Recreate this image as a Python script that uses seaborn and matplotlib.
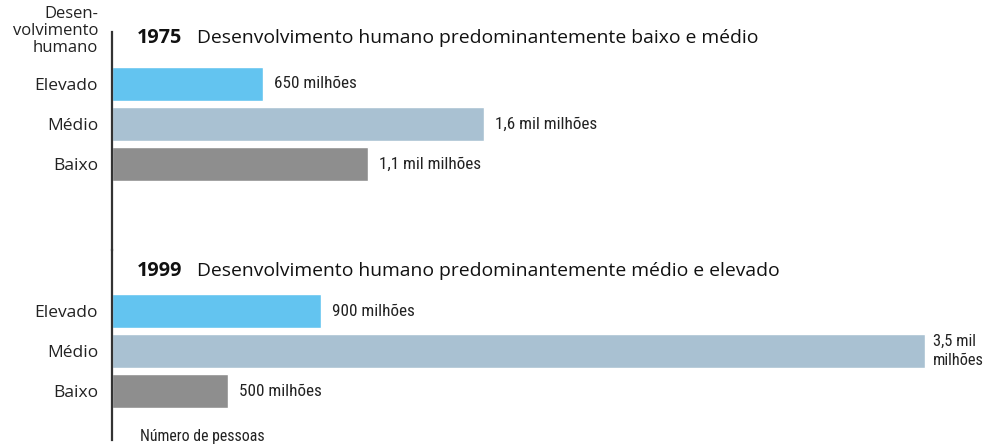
import matplotlib
matplotlib.use("Agg")
import matplotlib.pyplot as plt
from matplotlib import font_manager
import pandas as pd
import seaborn as sns

# Data
levels = ["Elevado", "Médio", "Baixo"]
years = ["1975", "1999"]
titles = ["Desenvolvimento humano predominantemente baixo e médio",
          "Desenvolvimento humano predominantemente médio e elevado"]
people_1975 = [650, 1600, 1100]
people_1999 = [900, 3500, 500]
labels_1975 = ["650 milhões", "1,6 mil milhões", "1,1 mil milhões"]
labels_1999 = ["900 milhões", "3,5 mil\nmilhões", "500 milhões"]

colors = ["#63c4f0", "#a9c1d2", "#8e8e8e"]

sns.set_style("white")
plt.rcParams["font.family"] = ["Open Sans", "DejaVu Sans"]

# pick a narrow font for the value labels if one is installed
installed = {f.name for f in font_manager.fontManager.ttflist}
narrow_size = 10.5
narrow = ["Roboto", "DejaVu Sans"]
for cand in ["Liberation Sans Narrow", "DejaVu Sans Condensed", "Roboto Condensed",
             "Open Sans Condensed", "Noto Sans Condensed"]:
    if cand in installed:
        narrow = [cand, "DejaVu Sans"]
        narrow_size = 12.3
        break

fig = plt.figure(figsize=(9.85, 4.46), dpi=100)
ax_top = fig.add_axes([0.1137, 0.4395, 0.8863, 0.4888])
ax_bot = fig.add_axes([0.1137, 0.01345, 0.8863, 0.426])

panels = [
    (ax_top, people_1975, labels_1975, years[0], titles[0], (4.15, -1.3), -1.15),
    (ax_bot, people_1999, labels_1999, years[1], titles[1], (3.225, -1.525), -1.0),
]

for ax, values, labels, year, title, ylim, ty in panels:
    df = pd.DataFrame({"level": levels, "people": values})
    sns.barplot(data=df, x="people", y="level", hue="level", palette=colors,
                orient="h", width=0.85, ax=ax, legend=False, saturation=1)
    for cont, lab in zip(ax.containers, labels):
        # the two-line label sits at the right edge, keep it tight
        two_lines = "\n" in lab
        ax.bar_label(cont, labels=[lab], padding=5.5 if two_lines else 8,
                     fontsize=narrow_size - 0.5 if two_lines else narrow_size,
                     family=narrow, color="#222222", linespacing=1.3)
    ax.set_xlim(0, 3758)
    ax.set_ylim(*ylim)
    ax.set_xlabel("")
    ax.set_ylabel("")
    ax.set_xticks([])
    ax.tick_params(axis="y", length=0, pad=10, labelsize=12.5, labelcolor="#222222")
    for s in ["top", "right", "bottom"]:
        ax.spines[s].set_visible(False)
    ax.spines["left"].set_color("#333333")
    ax.spines["left"].set_linewidth(1.6)
    ax.patch.set_alpha(0)
    ax.text(0.0286, ty, year, transform=ax.get_yaxis_transform(),
            fontsize=14.3, fontweight="bold", va="center", ha="left", color="#111111")
    ax.annotate(title, xy=(0.0286, ty), xycoords=ax.get_yaxis_transform(),
                xytext=(43, 0), textcoords="offset points",
                fontsize=13.9, va="center", ha="left", color="#111111")

ax_bot.text(0.032, 3.13, "Número de pessoas", transform=ax_bot.get_yaxis_transform(),
            fontsize=narrow_size - 0.9, family=narrow, va="center", ha="left", color="#222222")

fig.text(98 / 985, 1 - 31 / 446, "Desen-\nvolvimento\nhumano", ha="right", va="center",
         fontsize=12, linespacing=1.1, color="#222222")

fig.savefig("out.png", dpi=100)
